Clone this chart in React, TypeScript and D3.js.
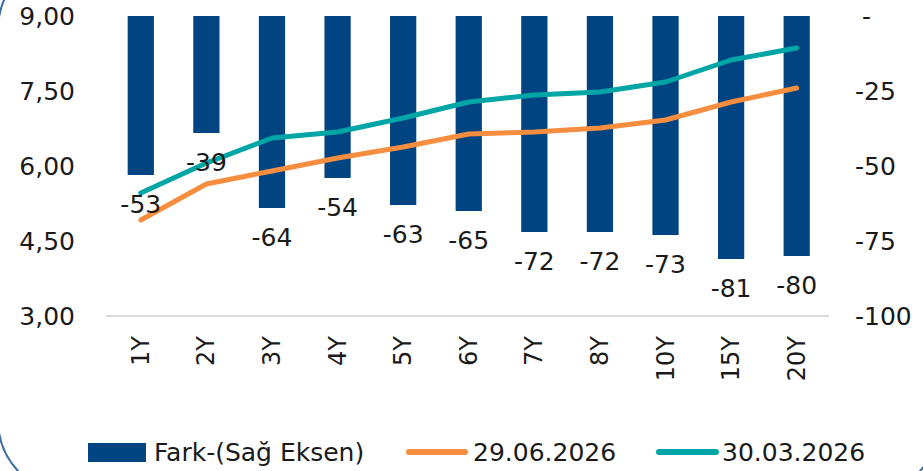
import React from "react";
import * as d3 from "d3";

// tenors on the x axis
const tenors = ["1Y", "2Y", "3Y", "4Y", "5Y", "6Y", "7Y", "8Y", "10Y", "15Y", "20Y"];
// spread, bps (right axis)
const fark = [-53, -39, -64, -54, -63, -65, -72, -72, -73, -81, -80];
// yields, % (left axis)
const june2026 = [4.92, 5.64, 5.9, 6.16, 6.38, 6.64, 6.68, 6.76, 6.92, 7.28, 7.56];
const march2026 = [5.46, 6.06, 6.56, 6.68, 6.96, 7.28, 7.42, 7.48, 7.68, 8.12, 8.36];

const leftTicks = [9, 7.5, 6, 4.5, 3];
const rightTicks = [0, -25, -50, -75, -100];

const W = 923;
const H = 471;
const FONT = "'DejaVu Sans', sans-serif";

const BAR = "#004481";
const ORANGE = "#F78D3F";
const TEAL = "#00A6A6";

export default function App() {
  const x = d3
    .scaleBand()
    .domain(tenors)
    .range([108, 829.5])
    .paddingInner(0.6)
    .paddingOuter(0.3);
  const yL = d3.scaleLinear().domain([3, 9]).range([316, 16]);
  const yR = d3.scaleLinear().domain([-100, 0]).range([316, 16]);
  const cx = (c: string) => (x(c) as number) + x.bandwidth() / 2;

  const line = d3
    .line<number>()
    .x((d, i) => cx(tenors[i]))
    .y((d) => yL(d));

  const fmtL = (v: number) => d3.format(".2f")(v).replace(".", ",");
  const fmtR = (v: number) => (v === 0 ? "-" : String(v));

  return (
    <svg
      width={W}
      height={H}
      style={{ position: "absolute", left: 0, top: 0, background: "#fff" }}
      fontFamily={FONT}
    >
      {/* panel border, mostly outside the view */}
      <rect
        x={-2}
        y={-45}
        width={942}
        height={540}
        rx={75}
        fill="none"
        stroke="#3E6EA6"
        strokeWidth={2}
      />

      {/* baseline */}
      <line x1={106} x2={829} y1={yL(3)} y2={yL(3)} stroke="#d9d9d9" strokeWidth={2} />

      {/* left axis */}
      {leftTicks.map((t) => (
        <text key={t} x={75} y={yL(t)} textAnchor="end" dominantBaseline="central" fontSize={25} fill="#1a1a1a">
          {fmtL(t)}
        </text>
      ))}

      {/* right axis */}
      {rightTicks.map((t) => (
        <text
          key={t}
          x={t === 0 ? 862 : 855}
          y={yR(t)}
          dominantBaseline="central"
          fontSize={25}
          fill="#1a1a1a"
        >
          {fmtR(t)}
        </text>
      ))}

      {/* bars */}
      {fark.map((v, i) => (
        <rect
          key={tenors[i]}
          x={x(tenors[i])}
          y={yR(0)}
          width={x.bandwidth()}
          height={yR(v) - yR(0)}
          fill={BAR}
        />
      ))}

      {/* lines */}
      <path d={line(march2026) || ""} fill="none" stroke={TEAL} strokeWidth={5} strokeLinejoin="round" strokeLinecap="round" />
      <path d={line(june2026) || ""} fill="none" stroke={ORANGE} strokeWidth={5} strokeLinejoin="round" strokeLinecap="round" />

      {/* bar labels */}
      {fark.map((v, i) => (
        <text
          key={"l" + tenors[i]}
          x={cx(tenors[i])}
          y={yR(v) + 29}
          textAnchor="middle"
          dominantBaseline="central"
          fontSize={25}
          fill="#1a1a1a"
        >
          {v}
        </text>
      ))}

      {/* category labels */}
      {tenors.map((c) => (
        <text
          key={"c" + c}
          transform={`translate(${cx(c) + 8},336) rotate(-90)`}
          textAnchor="end"
          fontSize={24}
          fill="#1a1a1a"
        >
          {c}
        </text>
      ))}

      {/* legend */}
      <g fontSize={25} fill="#1a1a1a">
        <rect x={88} y={443} width={58} height={19} fill={BAR} />
        <text x={154} y={452} dominantBaseline="central">Fark-(Sağ Eksen)</text>
        <line x1={409} x2={465} y1={452} y2={452} stroke={ORANGE} strokeWidth={6} strokeLinecap="round" />
        <text x={473} y={452} dominantBaseline="central">29.06.2026</text>
        <line x1={659} x2={716} y1={452} y2={452} stroke={TEAL} strokeWidth={6} strokeLinecap="round" />
        <text x={722} y={452} dominantBaseline="central">30.03.2026</text>
      </g>
    </svg>
  );
}
